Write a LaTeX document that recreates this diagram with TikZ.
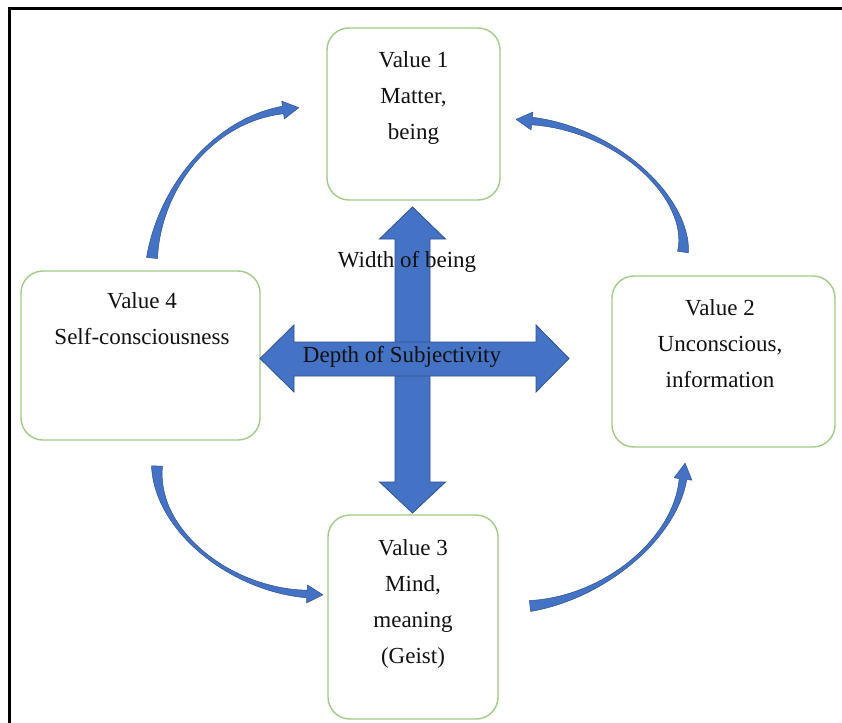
\documentclass[tikz,border=0pt]{standalone}
\usepackage{fontspec}
\setmainfont{Liberation Serif}
\usetikzlibrary{calc}
\definecolor{boxgreen}{HTML}{A0CC85}
\definecolor{arrowblue}{HTML}{4472C4}
\definecolor{arrowedge}{HTML}{2F528F}
\definecolor{textgrey}{HTML}{111111}
\tikzset{
  valuebox/.style={draw=boxgreen, line width=1.4pt, rounded corners=22pt, fill=white, inner sep=0pt},
  valuetext/.style={anchor=north, align=center, inner sep=0pt, text=textgrey, font=\fontsize{23}{36}\selectfont},
  crosstext/.style={inner sep=0pt, text=textgrey, font=\fontsize{23}{28}\selectfont},
  bigarrow/.style={fill=arrowblue, draw=arrowedge, line width=0.8pt, line join=miter},
  arcarrow/.style={fill=arrowblue, draw=arrowedge, line width=0.5pt, line join=round},
}
\newcommand\flowarc[4]{%
  \filldraw[arcarrow]
    ($(#1)!5.5pt!90:(#2)$) .. controls ($(#2)!1.3pt!90:(#3)$) and ($(#3)!1.3pt!90:(#4)$) .. ($(#4)!3.8pt!-90:(#3)$)
    -- ($(#4)!9pt!-90:(#3)$) -- ($(#4)!16pt!180:(#3)$) -- ($(#4)!9pt!90:(#3)$)
    -- ($(#4)!3.8pt!90:(#3)$) .. controls ($(#3)!1.3pt!-90:(#4)$) and ($(#2)!1.3pt!-90:(#3)$) .. ($(#1)!5.5pt!-90:(#2)$)
    -- cycle;}
\begin{document}
\begin{tikzpicture}[x=1pt,y=-1pt]
\useasboundingbox (0,0) rectangle (842,722);
\fill[white] (0,0) rectangle (842,722);
% frame
\draw[line width=3pt] (9.5,723) -- (9.5,9) -- (843,9);

% boxes
\node[valuebox, minimum width=173pt, minimum height=172pt] (v1) at (413.5,114) {};
\node[valuebox, minimum width=239pt, minimum height=169pt] (v4) at (140.5,355.5) {};
\node[valuebox, minimum width=223pt, minimum height=171pt] (v2) at (723.5,361.5) {};
\node[valuebox, minimum width=170pt, minimum height=204pt] (v3) at (413,617) {};

\node[valuetext] (t1) at (413.5,51.5) {Value 1\\Matter,\\being};
\node[valuetext] (t4) at (142,292.5) {Value 4\\Self-consciousness};
\node[valuetext] (t2) at (720,299) {Value 2\\Unconscious,\\information};
\node[valuetext] (t3) at (413,539) {Value 3\\Mind,\\meaning\\(Geist)};

% cross arrows
\filldraw[bigarrow] (412.5,207) -- (445.5,239) -- (430,239) -- (430,482) -- (445.5,482)
  -- (412.5,513) -- (379.5,482) -- (395,482) -- (395,239) -- (379.5,239) -- cycle;
\filldraw[bigarrow] (260,358.5) -- (294,325) -- (294,342) -- (536,342) -- (536,325)
  -- (569,358.5) -- (536,392) -- (536,376) -- (294,376) -- (294,392) -- cycle;
\node[crosstext] (wb) at (407,262) {Width of being};
\node[crosstext] (ds) at (402,357) {Depth of Subjectivity};

% curved arrows
\coordinate (a1s) at (152,258); \coordinate (a1c) at (160,185);
\coordinate (a1d) at (215,120); \coordinate (a1e) at (283,110);
\flowarc{a1s}{a1c}{a1d}{a1e}
\coordinate (a2s) at (683,252); \coordinate (a2c) at (690,200);
\coordinate (a2d) at (620,130); \coordinate (a2e) at (532,121);
\flowarc{a2s}{a2c}{a2d}{a2e}
\coordinate (a3s) at (157,466); \coordinate (a3c) at (155,530);
\coordinate (a3d) at (230,590); \coordinate (a3e) at (307,594);
\flowarc{a3s}{a3c}{a3d}{a3e}
\coordinate (a4s) at (530,606); \coordinate (a4c) at (603,598);
\coordinate (a4d) at (675,540); \coordinate (a4e) at (683,479);
\flowarc{a4s}{a4c}{a4d}{a4e}
\end{tikzpicture}
\end{document}
